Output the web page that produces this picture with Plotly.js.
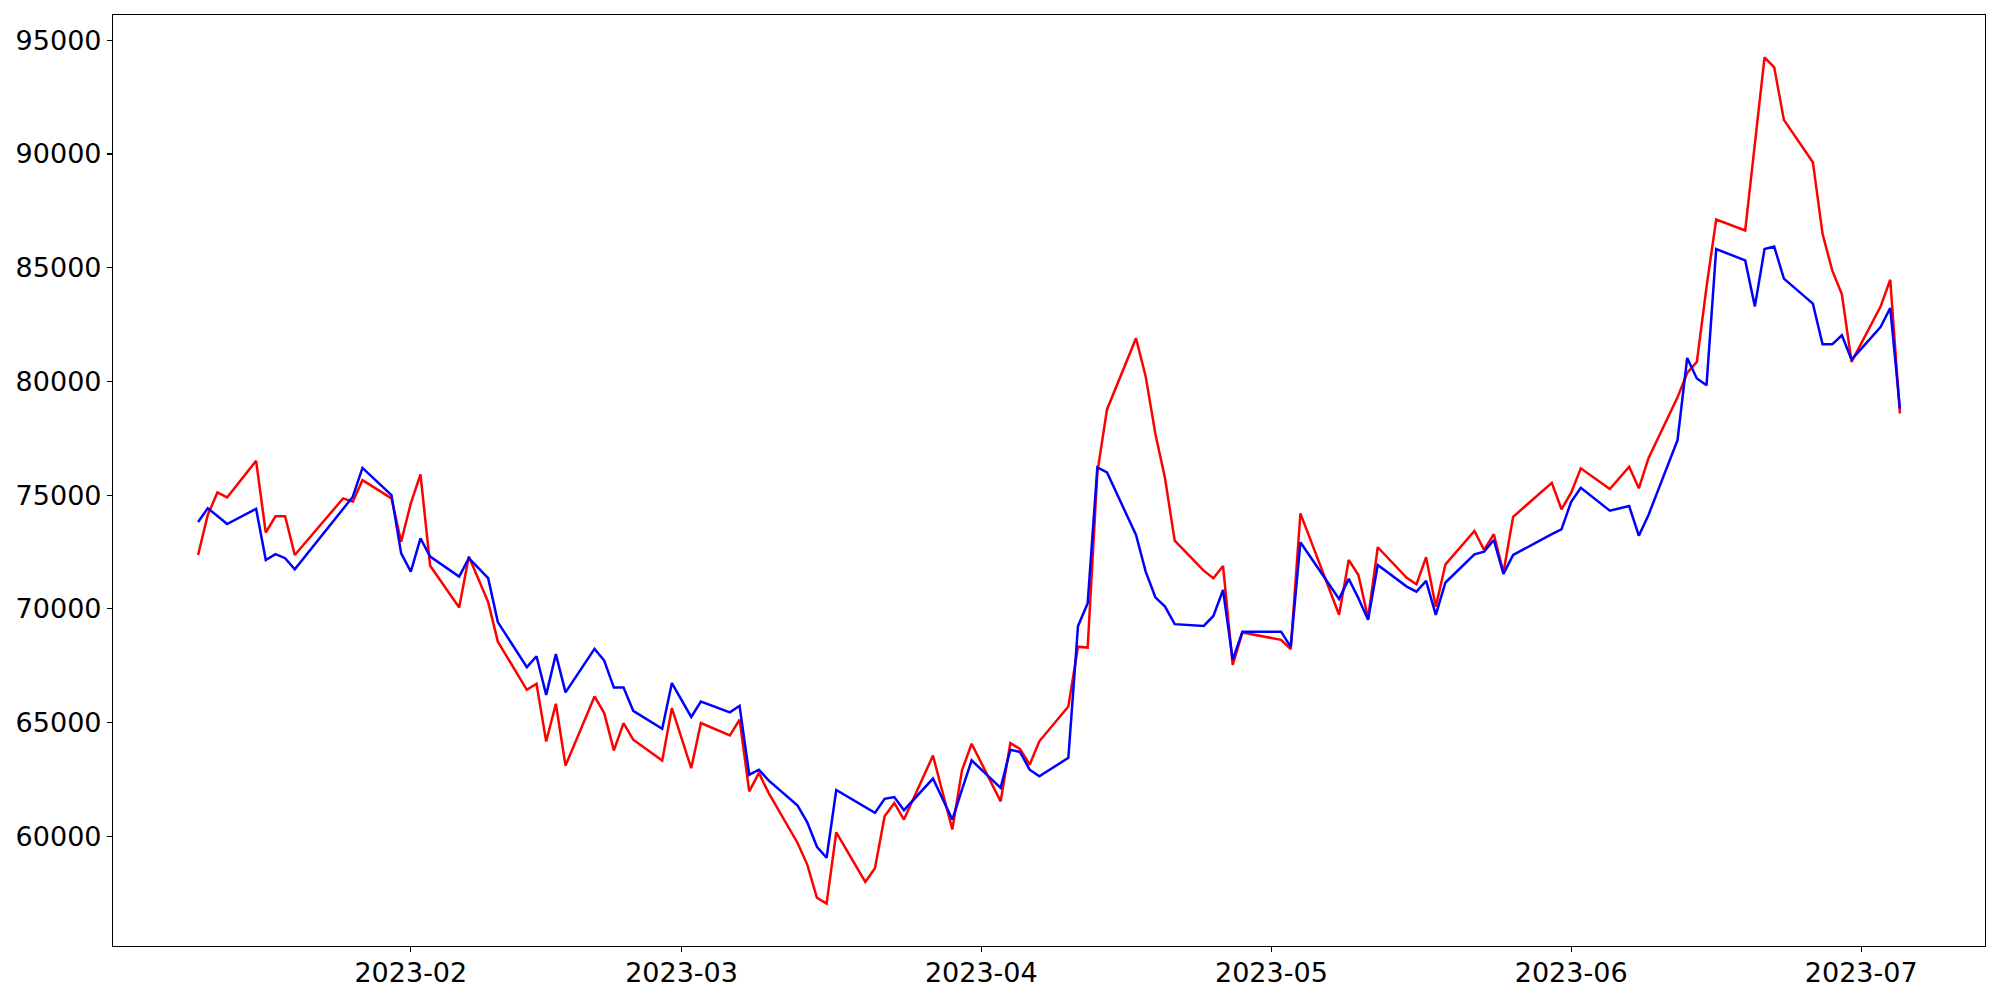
<!DOCTYPE html>
<html>
<head>
<meta charset="utf-8">
<script src="https://cdn.plot.ly/plotly-3.0.1.min.js"></script>
<style>html,body{margin:0;padding:0;background:#fff;}#chart{width:2000px;height:1000px;}</style>
</head>
<body>
<div id="chart"></div>
<script>
const dates = [
  "2023-01-10","2023-01-11","2023-01-12","2023-01-13","2023-01-16","2023-01-17","2023-01-18","2023-01-19","2023-01-20",
  "2023-01-25","2023-01-26","2023-01-27","2023-01-30","2023-01-31",
  "2023-02-01","2023-02-02","2023-02-03","2023-02-06","2023-02-07","2023-02-08","2023-02-09","2023-02-10",
  "2023-02-13","2023-02-14","2023-02-15","2023-02-16","2023-02-17","2023-02-20","2023-02-21","2023-02-22","2023-02-23","2023-02-24",
  "2023-02-27","2023-02-28",
  "2023-03-02","2023-03-03","2023-03-06","2023-03-07","2023-03-08","2023-03-09","2023-03-10",
  "2023-03-13","2023-03-14","2023-03-15","2023-03-16","2023-03-17","2023-03-20","2023-03-21","2023-03-22","2023-03-23","2023-03-24",
  "2023-03-27","2023-03-28","2023-03-29","2023-03-30","2023-03-31",
  "2023-04-03","2023-04-04","2023-04-05","2023-04-06","2023-04-07","2023-04-10","2023-04-11","2023-04-12","2023-04-13","2023-04-14",
  "2023-04-17","2023-04-18","2023-04-19","2023-04-20","2023-04-21","2023-04-24","2023-04-25","2023-04-26","2023-04-27","2023-04-28",
  "2023-05-02","2023-05-03","2023-05-04","2023-05-08","2023-05-09","2023-05-10","2023-05-11","2023-05-12",
  "2023-05-15","2023-05-16","2023-05-17","2023-05-18","2023-05-19","2023-05-22","2023-05-23","2023-05-24","2023-05-25","2023-05-26",
  "2023-05-30","2023-05-31","2023-06-01","2023-06-02",
  "2023-06-05","2023-06-07","2023-06-08","2023-06-09","2023-06-12","2023-06-13","2023-06-14","2023-06-15","2023-06-16",
  "2023-06-19","2023-06-20","2023-06-21","2023-06-22","2023-06-23","2023-06-26","2023-06-27","2023-06-28","2023-06-29","2023-06-30",
  "2023-07-03","2023-07-04","2023-07-05"
];

const redSeries = [
  72370,74130,75120,74900,76510,73350,74070,74070,72370,
  74860,74710,75660,74860,72950,
  74640,75910,71900,70060,72300,71300,70300,68560,
  66440,66710,64170,65830,63110,66150,65420,63780,64980,64250,
  63330,65640,
  63000,64980,64440,65130,61980,62790,61910,
  59710,58760,57300,57040,60180,58000,58600,60880,61470,60740,
  63550,61920,60300,62900,64070,
  61540,64100,63840,63150,64180,65710,68340,68300,76000,78770,
  81900,80220,77700,75740,73000,71680,71350,71890,67540,68960,
  68640,68230,74200,69740,72150,71490,69590,72710,
  71370,71080,72270,70100,71960,73430,72590,73290,71600,74050,
  75540,74380,75110,76180,
  75270,76250,75300,76630,79300,80370,80860,84150,87120,
  86640,90440,94250,93810,91500,89640,86490,84880,83830,80860,
  83290,84470,78590
];

const blueSeries = [
  73820,74420,74080,73730,74400,72150,72410,72230,71740,
  74380,74930,76200,75000,72440,
  71640,73100,72300,71420,72230,71790,71350,69420,
  67440,67920,66220,68010,66330,68240,67730,66540,66540,65520,
  64730,66740,
  65250,65930,65450,65740,62710,62930,62460,
  61350,60620,59540,59060,62040,61300,61030,61650,61730,61150,
  62540,61640,60740,62050,63340,
  62130,63810,63710,62930,62640,63450,69250,70250,76220,76000,
  73250,71640,70510,70100,69330,69250,69690,70830,67760,69000,
  69000,68330,72930,70440,71320,70470,69520,71930,
  70980,70760,71230,69740,71160,72400,72520,73030,71540,72370,
  73290,73500,74710,75320,
  74320,74520,73220,74130,77420,81030,80130,79830,85820,
  85320,83300,85820,85930,84520,83420,81630,81630,82030,80960,
  82390,83230,78810
];

const yTickVals = [60000,65000,70000,75000,80000,85000,90000,95000];
const xTickVals = ["2023-02-01","2023-03-01","2023-04-01","2023-05-01","2023-06-01","2023-07-01"];
const xTickText = ["2023-02","2023-03","2023-04","2023-05","2023-06","2023-07"];

// matplotlib-like 5% auto margins
const allY = redSeries.concat(blueSeries);
const yMin = Math.min(...allY), yMax = Math.max(...allY);
const yPad = (yMax - yMin) * 0.05;
const t0 = new Date(dates[0] + "T00:00:00Z").getTime();
const t1 = new Date(dates[dates.length - 1] + "T00:00:00Z").getTime();
const xPad = (t1 - t0) * 0.05;
const fmt = t => new Date(t).toISOString().replace("T", " ").slice(0, 19);

const traces = [
  {x: dates, y: redSeries, type: "scatter", mode: "lines", line: {color: "red", width: 2.5}, hoverinfo: "skip"},
  {x: dates, y: blueSeries, type: "scatter", mode: "lines", line: {color: "blue", width: 2.5}, hoverinfo: "skip"}
];

const axisCommon = {
  showgrid: false, zeroline: false, showline: true, mirror: true,
  linecolor: "black", linewidth: 1.1, ticks: "outside", ticklen: 5, tickwidth: 1.1,
  tickcolor: "black", automargin: false,
  tickfont: {family: "DejaVu Sans", size: 27, color: "black"}
};

const layout = {
  width: 2000, height: 1000,
  paper_bgcolor: "white", plot_bgcolor: "white",
  showlegend: false,
  margin: {l: 113, r: 15, t: 15, b: 54, pad: 0},
  font: {family: "DejaVu Sans", size: 27, color: "black"},
  xaxis: Object.assign({}, axisCommon, {
    type: "date",
    range: [fmt(t0 - xPad), fmt(t1 + xPad)],
    tickmode: "array", tickvals: xTickVals, ticktext: xTickText,
    ticklabelstandoff: -3
  }),
  yaxis: Object.assign({}, axisCommon, {
    range: [yMin - yPad, yMax + yPad],
    tickmode: "array", tickvals: yTickVals, ticktext: yTickVals.map(String)
  })
};

Plotly.newPlot("chart", traces, layout, {staticPlot: true, displayModeBar: false});
</script>
</body>
</html>
